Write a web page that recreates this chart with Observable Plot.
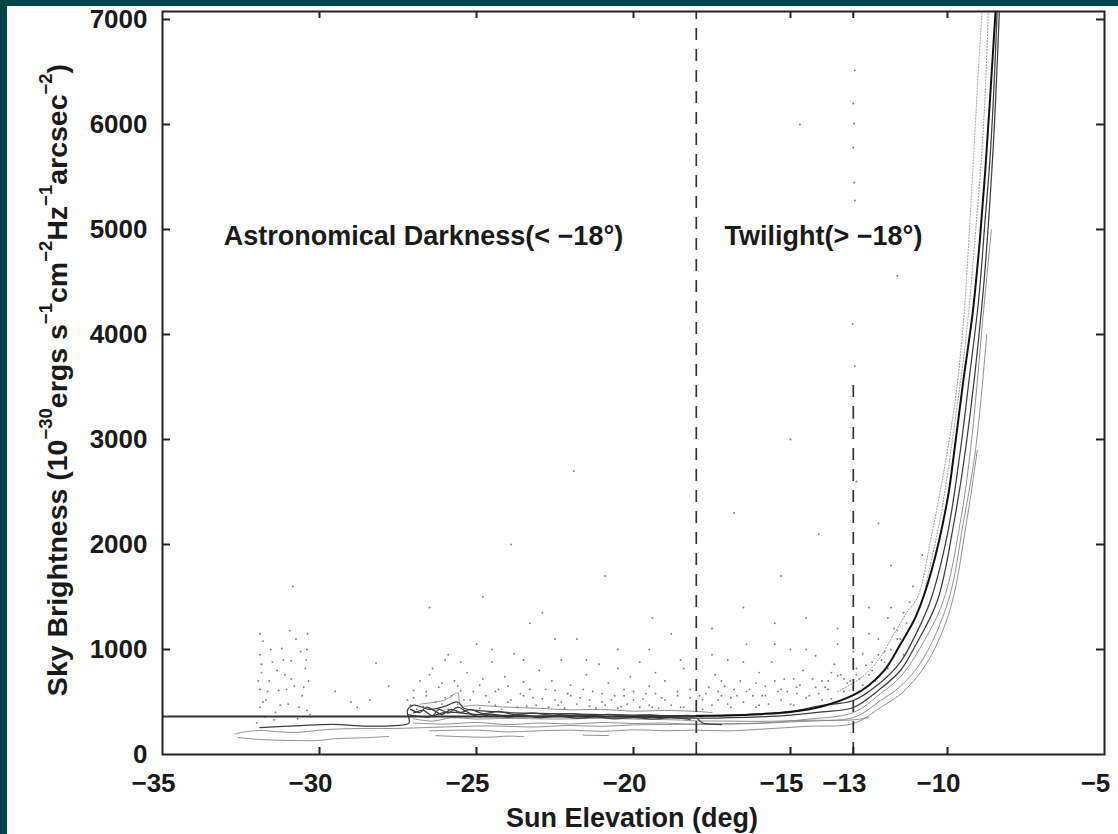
<!DOCTYPE html>
<html><head><meta charset="utf-8">
<script src="https://cdn.jsdelivr.net/npm/d3@7"></script>
<script src="https://cdn.jsdelivr.net/npm/@observablehq/plot@0.6"></script>
<style>
html,body{margin:0;padding:0;background:#00464a;width:1118px;height:834px;overflow:hidden}
#card{position:absolute;left:7px;top:6px;width:1111px;height:828px;background:#fff}
#chart{position:absolute;left:0;top:0;width:1118px;height:834px}
#chart svg{background:transparent !important;overflow:visible}
</style></head><body><div id="card"></div><div id="chart"></div>
<script>
// ---- axis ticks ----
const xTicks = [-35, -30, -25, -20, -15, -13, -10, -5];
const xInnerTicks = [-30, -25, -20, -15, -13, -10];
const yTicks = [0, 1000, 2000, 3000, 4000, 5000, 6000, 7000];
const yInnerTicks = [1000, 2000, 3000, 4000, 5000, 6000, 7000];

// ---- model: constant darkness level and twilight fit curve ----
const darkLevel = [{from: -35, to: -18, v: 362}];
const fitElev = [-18, -17, -16, -15, -14, -13, -12.5, -12, -11.5, -11, -10.5, -10, -9.8, -9.5, -9.2, -9, -8.8, -8.47];
const fitBright = [368, 372, 384, 405, 458, 565, 660, 805, 1050, 1320, 1760, 2430, 2850, 3550, 4200, 4800, 5550, 7076];

// ---- dashed dividers ----
const dividers = [{x: -18, top: 7076}, {x: -13, top: 3520}];

// ---- annotations ----
const annotations = [
  {label: "Astronomical Darkness(< −18°)", x: -33.05, y: 4930},
  {label: "Twilight(> −18°)", x: -17.1, y: 4930}
];

// ---- nightly measurement tracks [sun elevation, brightness] ----
const nightA = [[-32.7,195],[-32.4,215],[-31.9,228],[-30.8,210],[-29.75,238],[-28.7,248],[-27.6,248],[-26.55,257],[-25.5,267],[-24.5,272],[-23.2,262],[-22,276],[-21,268],[-20,282],[-19,285],[-18,290],[-16,300],[-14.5,335],[-13,400],[-12.13,581],[-11.5,740],[-10.9,1000],[-10.13,1467],[-9.6,2200],[-9.27,2895],[-8.82,4324],[-8.6,5000]];
const nightB = [[-32.6,162],[-31.9,143],[-30.8,133],[-30.06,133],[-29.5,150],[-28.5,160],[-27.8,172]];
const nightC = [[-31.9,257],[-30.6,276],[-29.55,286],[-28.5,270],[-27.6,276],[-27.15,300],[-27.2,420],[-27.0,470],[-26.5,430],[-26.0,460],[-25.6,500],[-25.4,440],[-25,420],[-24,400],[-23,392],[-22,386],[-21,380],[-20,376],[-19,371],[-18,368],[-17,374],[-16,386],[-15,410],[-14,468],[-13,514],[-12.13,686],[-11.5,880],[-11,1150],[-10.54,1467],[-10.0,2100],[-9.59,2895],[-9.3,3600],[-9.01,4324],[-8.8,5100],[-8.63,5752],[-8.42,7076]];
const nightD = [[-27.2,380],[-26.5,358],[-26,402],[-25,382],[-24,372],[-23,366],[-22,370],[-21,361],[-20,356],[-19,351],[-18,346],[-17,350],[-16,358],[-15,375],[-14,405],[-13,448],[-12.13,628],[-11.5,800],[-11,1050],[-10.32,1467],[-9.8,2200],[-9.43,2895],[-8.89,4324],[-8.55,5752],[-8.35,7076]];
const nightE = [[-27.0,340],[-26.4,318],[-25.8,350],[-25,338],[-24,344],[-22.5,338],[-21,344],[-20,338],[-18.5,328],[-18,320],[-17,318],[-16,316],[-14.5,325],[-13,352],[-12.13,514],[-11.5,650],[-10.8,900],[-9.97,1467],[-9.5,2200],[-9.11,2895],[-8.75,4000]];
const nightF = [[-26.5,225],[-25,232],[-24,215],[-23,226],[-22,232],[-21,220],[-20,236],[-19,226],[-18,232],[-17,225],[-16,240],[-14.5,268],[-13,295],[-12.13,448],[-11.4,600],[-10.6,900],[-9.9,1400],[-9.4,2200],[-9.05,2900]];
const nightG = [[-26.3,180],[-25.5,170],[-24.6,165],[-24.0,175],[-23.5,170]];
const nightH = [[-26.8,480],[-26,520],[-25.6,585],[-25.5,470],[-25,470],[-24,450],[-23,440],[-22,425],[-21,430],[-20,412],[-19,420],[-18,410],[-17.5,400]];
const nightI = [[-21.6,185],[-20.8,180]];
const nightJ = [[-17.95,340],[-17.8,300],[-17.5,290],[-17.2,285]];
const nightK = [[-27.1,430],[-26.8,400],[-26.6,450],[-26.3,410],[-26.1,380],[-25.8,430],[-25.5,400],[-25.2,430],[-24.8,390],[-24.3,410],[-23.8,380],[-23.2,395],[-22.6,375],[-22,390],[-21.4,370],[-20.8,382],[-20.2,366],[-19.5,378],[-18.9,362],[-18.3,372],[-17.8,360]];
const nightL = [[-27.0,395],[-26.7,420],[-26.4,370],[-26.2,430],[-25.9,395],[-25.6,450],[-25.3,405],[-24.9,360],[-24.5,385],[-24,355],[-23.5,375],[-23,350],[-22.4,365],[-21.8,345],[-21.2,358],[-20.6,340],[-20,352],[-19.4,338],[-18.8,350],[-18.2,335]];
const nightM = [[-27,300],[-26,290],[-25,305],[-24,285],[-23,300],[-22,290],[-21,305],[-20,295],[-19,300],[-18,285],[-17,290],[-16,295],[-15,310],[-14,322],[-13,330],[-12.5,352]];
// dotted trails of samples along the steep twilight rise
const trailA = [[-13.5,600],[-12.8,720],[-12.2,900],[-11.7,1150],[-11.3,1350],[-10.95,1500],[-10.5,2100],[-10.0,2895],[-9.7,3500],[-9.47,4200],[-9.3,5000],[-9.15,5800],[-9.0,6600],[-8.9,7076]];
const trailB = [[-10.7,1600],[-10.2,2300],[-9.75,3200],[-9.4,4000],[-9.1,5000],[-8.85,6000],[-8.7,7076]];

// ---- scattered individual samples [sun elevation, brightness] ----
const scatterA = [[-31.9,450],[-31.9,620],[-31.85,780],[-31.9,950],[-31.8,1080],[-31.7,520],[-31.6,700],[-31.5,880],[-31.4,400],[-31.3,610],[-31.2,1010],[-31.1,760],[-31.0,480],[-30.95,1180],[-30.9,890],[-30.85,1600],[-30.8,650],[-30.7,340],[-30.6,980],[-30.55,560],[-30.45,820],[-30.4,1000],[-30.4,420],[-30.35,700],[-31.45,330],[-31.75,360],[-29.5,600],[-28.8,450],[-28.2,870]];
const scatterB = [[-27.2,520],[-27.0,610],[-26.8,700],[-26.6,560],[-26.4,820],[-26.2,640],[-26.0,540],[-25.9,950],[-25.7,700],[-25.5,610],[-25.3,780],[-25.2,520],[-25.0,1050],[-24.9,660],[-24.7,560],[-24.5,880],[-24.3,620],[-24.1,740],[-24.0,500],[-23.8,960],[-23.6,580],[-23.5,690],[-23.3,1250],[-23.2,540],[-23.0,800],[-22.8,620],[-22.6,700],[-22.5,520],[-22.3,900],[-22.1,580],[-22.0,660],[-21.8,1100],[-21.7,540],[-21.5,760],[-21.3,600],[-21.1,860],[-21.0,500],[-20.8,680],[-20.6,560],[-20.5,1000],[-20.3,620],[-20.1,740],[-20.0,520],[-19.8,880],[-19.6,580],[-19.5,650],[-19.3,780],[-19.1,540],[-19.0,700],[-18.8,1150],[-18.6,600],[-18.4,820],[-18.2,540],[-26.5,1400],[-24.8,1500],[-22.9,1350],[-20.9,1700],[-19.4,1300],[-25.6,480],[-24.4,470],[-23.4,460],[-22.4,470],[-21.4,460],[-20.4,455],[-19.4,450],[-18.5,450],[-27.1,470],[-26.1,480],[-23.9,2000],[-21.9,2700]];
const scatterC = [[-17.8,520],[-17.6,640],[-17.4,760],[-17.2,560],[-17.0,900],[-16.8,620],[-16.6,700],[-16.4,1050],[-16.2,560],[-16.0,780],[-15.8,650],[-15.6,880],[-15.4,600],[-15.2,720],[-15.0,1000],[-14.8,640],[-14.6,800],[-14.4,560],[-14.2,940],[-14.0,700],[-13.8,620],[-13.6,860],[-13.4,760],[-13.2,680],[-13.0,980],[-12.8,720],[-12.6,850],[-12.4,800],[-12.2,950],[-12.0,880],[-11.8,1000],[-11.7,1200],[-11.6,1100],[-11.4,1350],[-11.2,1450],[-17.5,1200],[-16.5,1400],[-15.5,1250],[-14.5,1300],[-13.5,1200],[-12.5,1400],[-17.0,480],[-16.0,470],[-15.0,480],[-14.0,520],[-13.0,640],[-15.3,1700],[-14.1,2100],[-12.9,2600],[-13.0,3200],[-12.95,3700],[-13.02,4100],[-12.95,5276],[-12.97,5447],[-13.0,5781],[-12.98,6009],[-13.0,6200],[-12.95,6514],[-11.6,4560],[-12.2,2200],[-11.8,1800],[-16.8,2300],[-15.0,3000],[-14.7,6000]];
const scatterD = [[-26.9,430],[-26.7,455],[-26.6,600],[-26.3,500],[-26.1,680],[-25.9,430],[-25.8,560],[-25.6,650],[-25.4,520],[-25.1,600],[-24.9,440],[-24.8,720],[-24.6,500],[-24.4,600],[-24.2,430],[-24.0,650],[-23.9,520],[-23.7,450],[-23.5,560],[-23.3,620],[-23.1,470],[-22.9,530],[-22.7,450],[-22.5,610],[-22.3,500],[-22.2,440],[-22.0,560],[-21.8,480],[-21.6,620],[-21.4,520],[-21.2,440],[-21.0,580],[-20.9,470],[-20.7,520],[-20.5,440],[-20.3,560],[-20.2,480],[-20.0,600],[-19.8,450],[-19.7,530],[-19.5,470],[-19.3,580],[-19.2,440],[-19.0,520],[-18.8,470],[-18.6,560],[-18.4,450],[-18.2,620],[-18.0,480],[-17.8,430],[-17.7,580],[-17.5,470],[-17.3,520],[-17.1,650],[-16.9,450],[-16.7,560],[-16.5,500],[-16.3,620],[-16.1,450],[-15.9,560],[-15.7,480],[-15.5,700],[-15.3,520],[-15.1,600],[-14.9,470],[-14.7,660],[-14.5,540],[-14.3,720],[-14.1,580],[-13.9,640],[-13.7,530],[-13.5,750],[-13.3,600],[-13.1,700],[-12.9,820],[-12.7,660],[-12.5,760],[-12.3,700],[-12.1,900],[-11.9,820],[-11.7,950],[-11.5,1100],[-11.3,1250],[-27.0,540],[-26.5,760],[-26.0,900],[-25.5,880],[-24.5,1000],[-23.5,900],[-22.5,1100],[-21.5,900],[-20.5,820],[-19.5,1000],[-18.5,900],[-17.5,950],[-16.5,880],[-15.5,1050],[-14.5,1000],[-13.5,1050],[-12.5,1150],[-11.9,1300]];
const scatterE = [[-32.0,300],[-31.95,700],[-31.9,1150],[-31.85,860],[-31.8,500],[-31.65,600],[-31.55,1000],[-31.35,800],[-31.25,470],[-31.15,900],[-31.05,620],[-30.9,720],[-30.75,1100],[-30.65,450],[-30.5,640],[-30.42,900],[-30.38,1150],[-30.3,380],[-29.0,500],[-28.4,520],[-27.8,650]];
const scatterF = [[-17.9,560],[-17.3,600],[-16.9,540],[-16.4,600],[-15.8,560],[-15.3,620],[-14.8,580],[-14.2,640],[-13.8,700],[-13.3,720],[-12.9,760],[-12.4,880],[-12.0,980],[-11.6,1180],[-11.4,950],[-11.1,1600],[-10.8,1900],[-13.7,780],[-14.9,720],[-16.1,680],[-17.2,700],[-12.7,960],[-12.2,1100],[-11.8,1400]];

// ---- build tables ----
const toRows = (arr, name) => arr.map(([e, b]) => ({e, b, name}));
const darkTracks = [...toRows(nightC, "C"), ...toRows(nightD, "D"), ...toRows(nightJ, "J"), ...toRows(nightK, "K"), ...toRows(nightL, "L")];
const lightTracks = [...toRows(nightA, "A"), ...toRows(nightB, "B"), ...toRows(nightE, "E"), ...toRows(nightF, "F"), ...toRows(nightG, "G"), ...toRows(nightH, "H"), ...toRows(nightI, "I"), ...toRows(nightM, "M")];
const trails = [...toRows(trailA, "tA"), ...toRows(trailB, "tB")];
const scatter = [scatterA, scatterB, scatterC, scatterD, scatterE, scatterF].flatMap(s => toRows(s, "s"));
const fit = fitElev.map((e, i) => ({e, b: fitBright[i]}));

const W = 1118, H = 834, mL = 162, mR = 14, mT = 11, mB = 80;
const plotH = H - mT - mB, plotW = W - mL - mR;
const fmt = d => d < 0 ? "−" + Math.abs(d) : String(d);
const ink = "#1a1a1a";

const chart = Plot.plot({
  width: W, height: H,
  marginLeft: mL, marginRight: mR, marginTop: mT, marginBottom: mB,
  x: {domain: [-35, -5]},
  y: {domain: [0, 7076]},
  style: {fontFamily: "'Liberation Sans', Arial, Helvetica, sans-serif", fontWeight: "bold", fontSize: "26px", color: ink, background: "transparent", overflow: "visible"},
  marks: [
    Plot.dot(scatter, {x: "e", y: "b", r: 0.95, fill: "#7d7d7d", stroke: null}),
    Plot.line(trails, {x: "e", y: "b", z: "name", stroke: "#8f8f8f", strokeWidth: 1, strokeDasharray: "1,2", curve: "catmull-rom"}),
    Plot.line(lightTracks, {x: "e", y: "b", z: "name", stroke: "#858585", strokeWidth: 0.9, curve: "catmull-rom"}),
    Plot.line(darkTracks, {x: "e", y: "b", z: "name", stroke: "#3d3d3d", strokeWidth: 1.25, curve: "catmull-rom"}),
    Plot.ruleY(darkLevel, {y: "v", x1: "from", x2: "to", stroke: "#333", strokeWidth: 2}),
    Plot.line(fit, {x: "e", y: "b", stroke: "#111", strokeWidth: 2, curve: "catmull-rom"}),
    Plot.ruleX(dividers, {x: "x", y1: 0, y2: "top", stroke: "#333", strokeWidth: 1.7, strokeDasharray: "12,9"}),
    Plot.text(annotations, {x: "x", y: "y", text: "label", textAnchor: "start", lineAnchor: "middle", fontSize: 27, fontWeight: "bold", fill: ink}),
    // inward ticks on all four sides
    Plot.ruleX(xInnerTicks, {x: d => d, insetTop: plotH - 7, stroke: "#222", strokeWidth: 2}),
    Plot.ruleX(xInnerTicks, {x: d => d, insetBottom: plotH - 7, stroke: "#222", strokeWidth: 2}),
    Plot.ruleY(yInnerTicks, {y: d => d, insetRight: plotW - 8, stroke: "#222", strokeWidth: 2}),
    Plot.ruleY(yInnerTicks, {y: d => d, insetLeft: plotW - 8, stroke: "#222", strokeWidth: 2}),
    Plot.axisX(xTicks, {anchor: "bottom", tickSize: 0, tickPadding: 19, tickFormat: fmt, label: null, dx: -9}),
    Plot.axisY(yTicks, {anchor: "left", tickSize: 0, tickPadding: 15, tickFormat: fmt, label: null}),
    Plot.frame({stroke: "#222", strokeWidth: 2})
  ]
});
document.getElementById("chart").appendChild(chart);

// axis titles with superscripts
const svg = d3.select(chart);
svg.append("text")
  .attr("x", 632).attr("y", 827).attr("text-anchor", "middle")
  .attr("font-size", 27).attr("font-weight", "bold").attr("fill", ink)
  .text("Sun Elevation (deg)");

const yParts = [["Sky Brightness (10", false], ["−30", true], ["ergs s", false], ["−1", true], ["cm", false], ["−2", true], ["Hz", false], ["−1", true], ["arcsec", false], ["−2", true], [")", false]];
const yl = svg.append("text")
  .attr("transform", "translate(67,380) rotate(-90)")
  .attr("text-anchor", "middle")
  .attr("font-size", 28.5).attr("font-weight", "bold").attr("fill", ink);
let raised = false;
for (const [t, sup] of yParts) {
  const ts = yl.append("tspan").text(t);
  if (sup) { ts.attr("font-size", 18.5); if (!raised) ts.attr("dy", -15); raised = true; }
  else if (raised) { ts.attr("dy", 15); raised = false; }
}
</script></body></html>
